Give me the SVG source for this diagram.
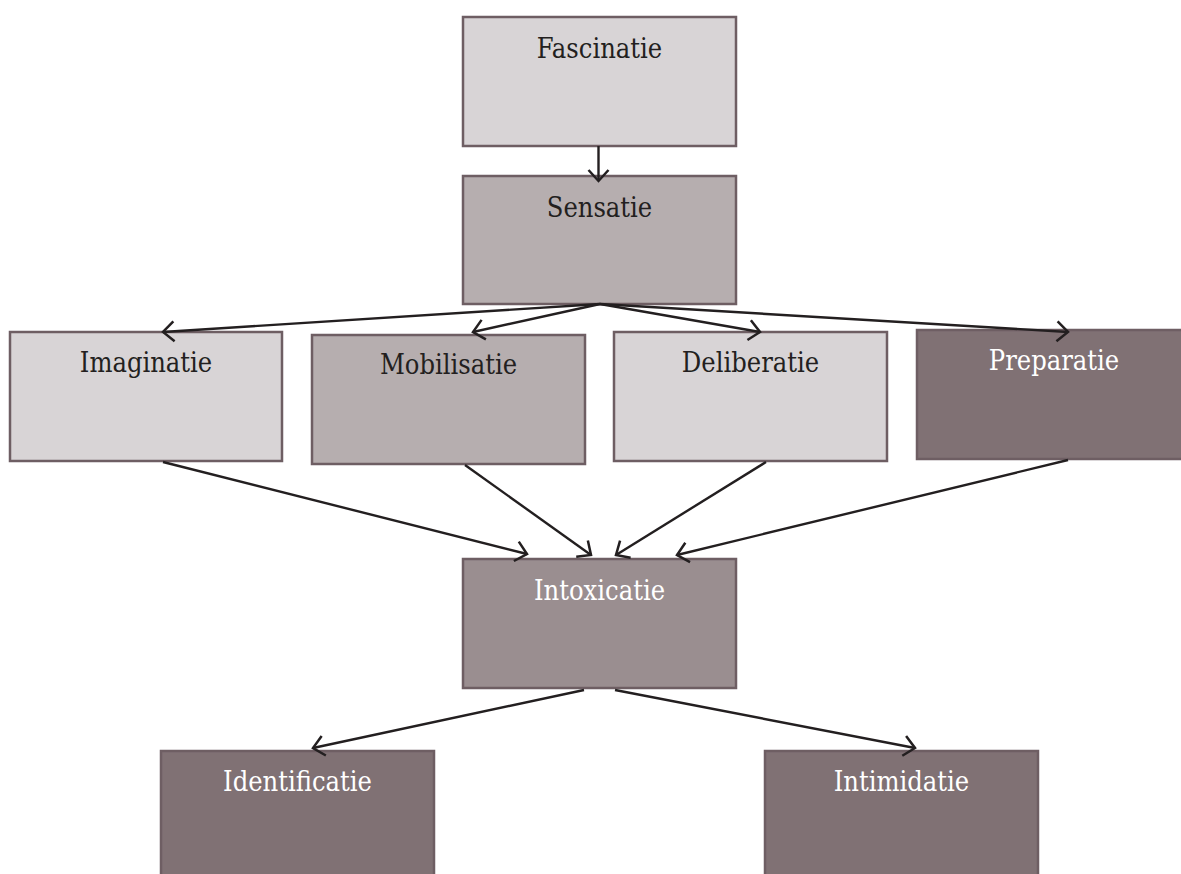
<svg xmlns="http://www.w3.org/2000/svg" width="1181" height="874" viewBox="0 0 1181 874">
<style>
.box{stroke:#6e5e63;stroke-width:2.5}
.l1{fill:#d8d4d6}
.l2{fill:#b6aeaf}
.l3{fill:#9a8e90}
.l4{fill:#807174}
.t{font-family:"DejaVu Serif Condensed","DejaVu Serif","Liberation Serif",serif;font-stretch:condensed;font-size:27px;text-anchor:middle;fill:#231f20}
.w{fill:#ffffff}
.c{stroke:#231f20;stroke-width:2.4;fill:none;marker-end:url(#ah)}
</style>
<defs>
<marker id="ah" markerUnits="userSpaceOnUse" markerWidth="30" markerHeight="30" refX="0" refY="0" viewBox="-15 -15 30 30" orient="auto" overflow="visible">
<path d="M-11,-10 L0,0 L-11,10" fill="none" stroke="#231f20" stroke-width="2.5"/>
</marker>
</defs>
<rect width="1181" height="874" fill="#ffffff"/>
<g id="fascinatie"><rect class="box l1" x="463" y="17" width="273" height="129"/><text class="t" x="599.5" y="58">Fascinatie</text></g>
<g id="sensatie"><rect class="box l2" x="463" y="176" width="273" height="128"/><text class="t" x="599.5" y="217">Sensatie</text></g>
<g id="imaginatie"><rect class="box l1" x="10" y="332" width="272" height="129"/><text class="t" x="146" y="372">Imaginatie</text></g>
<g id="mobilisatie"><rect class="box l2" x="312" y="335" width="273" height="129"/><text class="t" x="448.5" y="374">Mobilisatie</text></g>
<g id="deliberatie"><rect class="box l1" x="614" y="332" width="273" height="129"/><text class="t" x="750.5" y="372">Deliberatie</text></g>
<g id="preparatie"><rect class="box l4" x="917" y="330" width="273" height="129"/><text class="t w" x="1054" y="370">Preparatie</text></g>
<g id="intoxicatie"><rect class="box l3" x="463" y="559" width="273" height="129"/><text class="t w" x="599.5" y="600">Intoxicatie</text></g>
<g id="identificatie"><rect class="box l4" x="161" y="751" width="273" height="140"/><text class="t w" x="297.5" y="791">Identificatie</text></g>
<g id="intimidatie"><rect class="box l4" x="765" y="751" width="273" height="140"/><text class="t w" x="901.5" y="791">Intimidatie</text></g>
<g id="connectors">
<line class="c" x1="598.5" y1="146" x2="598.5" y2="181"/>
<line class="c" x1="600" y1="304" x2="163" y2="332"/>
<line class="c" x1="600" y1="304" x2="473" y2="332"/>
<line class="c" x1="600" y1="304" x2="760" y2="332"/>
<line class="c" x1="600" y1="304" x2="1068" y2="332"/>
<line class="c" x1="163" y1="462" x2="527" y2="554"/>
<line class="c" x1="465" y1="465" x2="591" y2="555"/>
<line class="c" x1="766" y1="462" x2="616" y2="555"/>
<line class="c" x1="1068" y1="460" x2="677" y2="555"/>
<line class="c" x1="584" y1="690" x2="313" y2="748"/>
<line class="c" x1="615" y1="690" x2="915" y2="748"/>
</g>
</svg>
